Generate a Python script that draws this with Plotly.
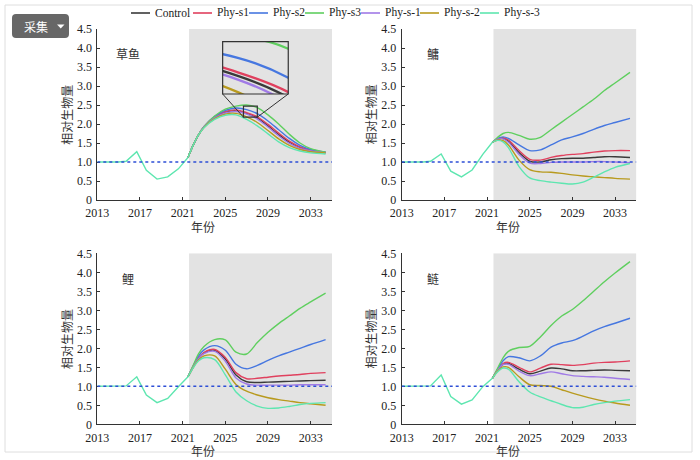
import plotly.graph_objects as go

W, H = 700, 460

series_names = ["Control", "Phy-s1", "Phy-s2", "Phy-s3", "Phy-s-1", "Phy-s-2", "Phy-s-3"]
series_colors = ["#3a3a3a", "#e0405e", "#4677e0", "#5fcf5f", "#a07ae6", "#b89a1e", "#5ee6b0"]

panel_labels = ["草鱼", "鳙", "鲤", "鲢"]
menu_label = "采集"

hist_years = [2013, 2014, 2015, 2015.7, 2016.7, 2017.6, 2018.6, 2019.6, 2020.6, 2021.5]
hist_p1 = [1.0, 1.0, 1.0, 1.02, 1.27, 0.78, 0.55, 0.61, 0.82, 1.12]
hist_p2 = [1.0, 1.0, 1.0, 1.02, 1.21, 0.76, 0.61, 0.79, 1.20, 1.52]
hist_p3 = [1.0, 1.0, 1.0, 1.01, 1.25, 0.77, 0.57, 0.68, 0.99, 1.25]
hist_p4 = [1.0, 1.0, 1.0, 1.01, 1.30, 0.73, 0.53, 0.64, 0.99, 1.21]

proj_years = [2021.5, 2022, 2022.5, 2023, 2024, 2025, 2026, 2027, 2028, 2029, 2030, 2031, 2032, 2033, 2034.4]

# 草鱼
p1_control = [1.12, 1.45, 1.72, 1.92, 2.17, 2.31, 2.35, 2.28, 2.16, 1.95, 1.72, 1.52, 1.38, 1.30, 1.25]
p1_s1 = [1.12, 1.45, 1.72, 1.93, 2.19, 2.33, 2.37, 2.30, 2.19, 1.99, 1.76, 1.55, 1.40, 1.31, 1.25]
p1_s2 = [1.12, 1.45, 1.72, 1.93, 2.20, 2.36, 2.42, 2.38, 2.27, 2.08, 1.85, 1.62, 1.44, 1.33, 1.26]
p1_s3 = [1.12, 1.45, 1.72, 1.93, 2.21, 2.39, 2.47, 2.50, 2.43, 2.24, 2.00, 1.73, 1.50, 1.35, 1.26]
p1_sm1 = [1.12, 1.45, 1.72, 1.92, 2.16, 2.29, 2.33, 2.26, 2.13, 1.92, 1.69, 1.49, 1.36, 1.29, 1.24]
p1_sm2 = [1.12, 1.45, 1.72, 1.91, 2.14, 2.26, 2.28, 2.19, 2.04, 1.83, 1.61, 1.44, 1.33, 1.27, 1.24]
p1_sm3 = [1.12, 1.45, 1.72, 1.90, 2.12, 2.23, 2.24, 2.12, 1.95, 1.74, 1.53, 1.38, 1.29, 1.24, 1.21]

# 鳙
p2_control = [1.52, 1.60, 1.62, 1.55, 1.25, 1.02, 1.00, 1.06, 1.09, 1.10, 1.10, 1.12, 1.14, 1.14, 1.12]
p2_s1 = [1.52, 1.61, 1.64, 1.58, 1.30, 1.07, 1.05, 1.12, 1.17, 1.20, 1.22, 1.26, 1.29, 1.30, 1.30]
p2_s2 = [1.52, 1.62, 1.66, 1.62, 1.45, 1.30, 1.32, 1.45, 1.58, 1.66, 1.75, 1.86, 1.96, 2.04, 2.15]
p2_s3 = [1.52, 1.65, 1.75, 1.78, 1.70, 1.60, 1.65, 1.85, 2.05, 2.25, 2.45, 2.65, 2.88, 3.08, 3.36]
p2_sm1 = [1.52, 1.60, 1.61, 1.52, 1.20, 0.97, 0.96, 0.99, 1.00, 1.00, 1.00, 1.01, 1.01, 1.00, 0.98]
p2_sm2 = [1.52, 1.58, 1.56, 1.45, 1.05, 0.80, 0.74, 0.73, 0.70, 0.66, 0.63, 0.61, 0.59, 0.57, 0.55]
p2_sm3 = [1.52, 1.57, 1.53, 1.38, 0.88, 0.58, 0.51, 0.47, 0.44, 0.42, 0.47, 0.60, 0.74, 0.86, 0.96]

# 鲤
p3_control = [1.25, 1.52, 1.74, 1.88, 1.95, 1.72, 1.30, 1.12, 1.10, 1.11, 1.12, 1.13, 1.14, 1.15, 1.16]
p3_s1 = [1.25, 1.52, 1.75, 1.89, 1.97, 1.76, 1.36, 1.20, 1.21, 1.24, 1.27, 1.29, 1.31, 1.34, 1.36]
p3_s2 = [1.25, 1.54, 1.80, 1.96, 2.07, 1.95, 1.58, 1.46, 1.55, 1.68, 1.80, 1.90, 2.00, 2.10, 2.23]
p3_s3 = [1.25, 1.56, 1.86, 2.05, 2.23, 2.22, 1.90, 1.85, 2.15, 2.42, 2.65, 2.85, 3.05, 3.22, 3.45]
p3_sm1 = [1.25, 1.51, 1.73, 1.86, 1.92, 1.66, 1.22, 1.06, 1.03, 1.03, 1.03, 1.03, 1.04, 1.04, 1.04]
p3_sm2 = [1.25, 1.50, 1.70, 1.80, 1.80, 1.45, 1.05, 0.87, 0.77, 0.70, 0.65, 0.61, 0.57, 0.54, 0.50]
p3_sm3 = [1.25, 1.49, 1.67, 1.75, 1.70, 1.30, 0.85, 0.62, 0.48, 0.42, 0.43, 0.47, 0.52, 0.55, 0.57]

# 鲢
p4_control = [1.21, 1.42, 1.58, 1.60, 1.45, 1.33, 1.40, 1.48, 1.46, 1.41, 1.41, 1.42, 1.43, 1.42, 1.41]
p4_s1 = [1.21, 1.43, 1.60, 1.63, 1.50, 1.38, 1.48, 1.58, 1.57, 1.55, 1.57, 1.61, 1.63, 1.64, 1.67]
p4_s2 = [1.21, 1.45, 1.67, 1.78, 1.75, 1.67, 1.80, 2.03, 2.14, 2.20, 2.32, 2.46, 2.57, 2.66, 2.79]
p4_s3 = [1.21, 1.48, 1.75, 1.92, 2.02, 2.05, 2.30, 2.60, 2.85, 3.02, 3.25, 3.50, 3.75, 3.98, 4.28]
p4_sm1 = [1.21, 1.42, 1.57, 1.58, 1.40, 1.28, 1.33, 1.38, 1.33, 1.28, 1.26, 1.25, 1.24, 1.21, 1.18]
p4_sm2 = [1.21, 1.40, 1.51, 1.50, 1.25, 1.04, 1.02, 1.00, 0.91, 0.82, 0.74, 0.67, 0.61, 0.56, 0.50]
p4_sm3 = [1.21, 1.38, 1.48, 1.45, 1.12, 0.85, 0.72, 0.62, 0.52, 0.44, 0.45, 0.52, 0.57, 0.61, 0.65]

panels = [
    (hist_p1, [p1_control, p1_s1, p1_s2, p1_s3, p1_sm1, p1_sm2, p1_sm3]),
    (hist_p2, [p2_control, p2_s1, p2_s2, p2_s3, p2_sm1, p2_sm2, p2_sm3]),
    (hist_p3, [p3_control, p3_s1, p3_s2, p3_s3, p3_sm1, p3_sm2, p3_sm3]),
    (hist_p4, [p4_control, p4_s1, p4_s2, p4_s3, p4_sm1, p4_sm2, p4_sm3]),
]

x_tickvals = [2013, 2017, 2021, 2025, 2029, 2033, 2035]
x_ticktext = ["2013", "2017", "2021", "2025", "2029", "2033", ""]
y_tickvals = [0, 0.5, 1.0, 1.5, 2.0, 2.5, 3.0, 3.5, 4.0, 4.5]
y_ticktext = ["0", "0.5", "1.0", "1.5", "2.0", "2.5", "3.0", "3.5", "4.0", "4.5"]

x_range = [2013, 2035]
y_range = [0, 4.5]
shade_start = 2021.6
ref_level = 1.0

# inset (zoom of 草鱼 panel)
zoom_x = [2026.7, 2028.0]
zoom_y = [2.18, 2.47]
inset_box_x = [2024.75, 2030.9]
inset_box_y = [2.79, 4.17]

# ---- layout constants (pixels) ----
px_left = [(97.3, 332.0), (401.7, 636.4), (97.3, 332.0), (401.7, 636.4)]
px_vert = [(29, 200), (29, 200), (253.3, 424.3), (253.3, 424.3)]
legend_line_x = [131, 193, 249, 305, 361, 420, 480]
legend_y = 13

SERIF = "Liberation Serif, Times New Roman, serif"
CJK = "Noto Sans CJK SC"
TICKSIZE = 12


def px(xp, yp):
    return xp / W, 1 - yp / H


fig = go.Figure()
layout = dict(
    width=W, height=H,
    margin=dict(l=0, r=0, t=0, b=0, autoexpand=False),
    paper_bgcolor="white", plot_bgcolor="rgba(0,0,0,0)",
    showlegend=False,
)
shapes = []
annotations = []


def label(text, xp, yp, size=12, family=CJK, color="#333", angle=0, xanchor="center"):
    x, y = px(xp, yp)
    annotations.append(dict(text=text, x=x, y=y, xref="paper", yref="paper",
                            xanchor=xanchor, yanchor="middle", showarrow=False,
                            textangle=angle, font=dict(family=family, size=size, color=color)))


for i, (hist, series) in enumerate(panels):
    k = "" if i == 0 else str(i + 1)
    xa, ya = "x" + k, "y" + k
    (x0p, x1p), (ytp, ybp) = px_left[i], px_vert[i]
    layout["xaxis" + k] = dict(
        domain=[x0p / W, x1p / W], range=x_range, anchor=ya,
        tickvals=x_tickvals, ticktext=x_ticktext, ticks="inside", ticklen=3,
        tickcolor="#333", showline=True, linecolor="#333", linewidth=1,
        showgrid=False, zeroline=False, ticklabelstandoff=2,
        tickfont=dict(family=SERIF, size=TICKSIZE, color="#222"),
    )
    layout["yaxis" + k] = dict(
        domain=[1 - ybp / H, 1 - ytp / H], range=y_range, anchor=xa,
        tickvals=y_tickvals, ticktext=y_ticktext, ticks="inside", ticklen=3,
        tickcolor="#333", showline=True, linecolor="#333", linewidth=1,
        showgrid=False, zeroline=False, ticklabelstandoff=2,
        tickfont=dict(family=SERIF, size=TICKSIZE, color="#222"),
    )
    shapes.append(dict(type="rect", xref=xa, yref=ya, x0=shade_start, x1=x_range[1],
                       y0=y_range[0], y1=y_range[1], fillcolor="#e3e3e3",
                       line=dict(width=0), layer="below"))
    for j, vals in enumerate(series):
        fig.add_trace(go.Scatter(
            x=proj_years, y=vals, mode="lines", name=series_names[j],
            line=dict(color=series_colors[j], width=1.4, shape="spline", smoothing=0.9),
            xaxis=xa, yaxis=ya, hoverinfo="skip",
        ))
    fig.add_trace(go.Scatter(
        x=hist_years, y=hist, mode="lines", name="history",
        line=dict(color=series_colors[6], width=1.4),
        xaxis=xa, yaxis=ya, hoverinfo="skip",
    ))
    shapes.append(dict(type="line", xref=xa, yref=ya, x0=x_range[0], x1=x_range[1],
                       y0=ref_level, y1=ref_level, line=dict(color="#2e4fd6", width=1.5, dash="dot")))
    label("相对生物量", x0p - 31, (ytp + ybp) / 2, angle=-90)
    label("年份", x0p + 106, ybp + 26)
    label(panel_labels[i], x0p + 31, ytp + 25)

# inset axes in panel 1
(x0p, x1p), (ytp, ybp) = px_left[0], px_vert[0]
def to_px_x(v):
    return x0p + (v - x_range[0]) / (x_range[1] - x_range[0]) * (x1p - x0p)
def to_px_y(v):
    return ybp - (v - y_range[0]) / (y_range[1] - y_range[0]) * (ybp - ytp)

ix0, ix1 = to_px_x(inset_box_x[0]), to_px_x(inset_box_x[1])
iy0, iy1 = to_px_y(inset_box_y[0]), to_px_y(inset_box_y[1])
layout["xaxis5"] = dict(domain=[ix0 / W, ix1 / W], range=zoom_x, anchor="y5",
                        showticklabels=False, ticks="", showgrid=False, zeroline=False,
                        showline=False)
layout["yaxis5"] = dict(domain=[1 - iy0 / H, 1 - iy1 / H], range=zoom_y, anchor="x5",
                        showticklabels=False, ticks="", showgrid=False, zeroline=False,
                        showline=False)
for j, vals in enumerate(panels[0][1]):
    if j == 6:
        continue
    fig.add_trace(go.Scatter(
        x=proj_years, y=vals, mode="lines", name=series_names[j],
        line=dict(color=series_colors[j], width=2.4, shape="spline", smoothing=0.9),
        xaxis="x5", yaxis="y5", cliponaxis=True, hoverinfo="skip",
    ))

shapes.append(dict(type="rect", xref="x", yref="y", x0=inset_box_x[0], x1=inset_box_x[1],
                   y0=inset_box_y[0], y1=inset_box_y[1], line=dict(color="#333", width=1.2),
                   fillcolor="rgba(0,0,0,0)"))
shapes.append(dict(type="rect", xref="x", yref="y", x0=zoom_x[0], x1=zoom_x[1],
                   y0=zoom_y[0], y1=zoom_y[1], line=dict(color="#333", width=1.2)))
shapes.append(dict(type="line", xref="x", yref="y", x0=inset_box_x[0], y0=inset_box_y[0],
                   x1=zoom_x[0], y1=zoom_y[0], line=dict(color="#333", width=1)))
shapes.append(dict(type="line", xref="x", yref="y", x0=inset_box_x[1], y0=inset_box_y[0],
                   x1=zoom_x[1], y1=zoom_y[0], line=dict(color="#333", width=1)))

# legend (line sample + label)
for j, name in enumerate(series_names):
    lx = legend_line_x[j]
    shapes.append(dict(type="line", xref="paper", yref="paper", x0=lx / W, x1=(lx + 19) / W,
                       y0=1 - legend_y / H, y1=1 - legend_y / H,
                       line=dict(color=series_colors[j], width=1.6)))
    label(name, lx + 22, legend_y, size=11.5, family=SERIF, color="#222", xanchor="left")

# dropdown-style button
bx0, by0, bx1, by1, r = 12, 14, 69, 38, 4
def P(xp, yp):
    x, y = px(xp, yp)
    return f"{x:.5f},{y:.5f}"
btn_path = (f"M {P(bx0 + r, by0)} L {P(bx1 - r, by0)} Q {P(bx1, by0)} {P(bx1, by0 + r)} "
            f"L {P(bx1, by1 - r)} Q {P(bx1, by1)} {P(bx1 - r, by1)} L {P(bx0 + r, by1)} "
            f"Q {P(bx0, by1)} {P(bx0, by1 - r)} L {P(bx0, by0 + r)} Q {P(bx0, by0)} {P(bx0 + r, by0)} Z")
shapes.append(dict(type="path", xref="paper", yref="paper", path=btn_path,
                   fillcolor="#676767", line=dict(width=0)))
tri_path = f"M {P(57, 24.5)} L {P(64.5, 24.5)} L {P(60.75, 28.5)} Z"
shapes.append(dict(type="path", xref="paper", yref="paper", path=tri_path,
                   fillcolor="white", line=dict(width=0)))
label(menu_label, 35.5, 26, size=12, color="white")

# outer frame
shapes.append(dict(type="rect", xref="paper", yref="paper", x0=5 / W, x1=692 / W,
                   y0=1 - 452 / H, y1=1 - 5 / H, line=dict(color="#dedede", width=1)))

layout["shapes"] = shapes
layout["annotations"] = annotations

fig.update_layout(**layout)
fig.write_html(
    "out.html",
    config={"displayModeBar": False},
    post_script="document.body.style.margin='0';document.body.style.overflow='hidden';",
)
